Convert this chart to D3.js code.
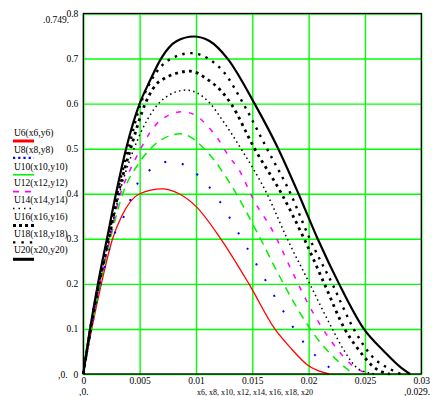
<!DOCTYPE html>
<html>
<head>
<meta charset="utf-8">
<script src="https://cdn.jsdelivr.net/npm/d3@7"></script>
<style>
  html, body { margin: 0; padding: 0; background: #fff; }
  svg { display: block; font-family: "Liberation Serif", "Times New Roman", serif; }
  .tick text { font-size: 9.5px; fill: #000; }
</style>
</head>
<body>
<svg id="chart" width="432" height="396"></svg>
<script>
// ---- data ----
const xTicks = [0, 0.005, 0.01, 0.015, 0.02, 0.025, 0.03];
const xTickLabels = ["0", "0.005", "0.01", "0.015", "0.02", "0.025", "0.03"];
const yTicks = [0, 0.1, 0.2, 0.3, 0.4, 0.5, 0.6, 0.7, 0.8];
const yTickLabels = ["0", "0.1", "0.2", "0.3", "0.4", "0.5", "0.6", "0.7", "0.8"];

const seriesNames = ["U6(x6,y6)", "U8(x8,y8)", "U10(x10,y10)", "U12(x12,y12)",
                     "U14(x14,y14)", "U16(x16,y16)", "U18(x18,y18)", "U20(x20,y20)"];

const u6 = [[0,0],[0.00075,0.1],[0.0016,0.2],[0.0026,0.3],[0.0034,0.35],[0.005,0.4],[0.007,0.411],
  [0.0085,0.4],[0.01,0.372],[0.0122,0.3],[0.0147,0.2],[0.017,0.1],[0.0185,0.055],[0.0199,0.02],[0.0218,0]];
const u8 = [[0,0],[0.00072,0.1],[0.00155,0.2],[0.0026,0.3],[0.0036,0.35],[0.0044,0.4],[0.005,0.43],
  [0.0078,0.472],[0.0112,0.414],[0.0143,0.29],[0.0163,0.202],[0.0171,0.167],[0.0196,0.069],[0.0226,0]];
const u10 = [[0,0],[0.0007,0.1],[0.0015,0.2],[0.0024,0.3],[0.0035,0.4],[0.005,0.47],[0.0062,0.506],
  [0.0086,0.533],[0.0112,0.487],[0.0131,0.42],[0.0156,0.306],[0.0175,0.213],[0.0198,0.113],[0.0206,0.084],
  [0.0228,0.024],[0.024,0]];
const u12 = [[0,0],[0.00068,0.1],[0.00146,0.2],[0.00235,0.3],[0.0033,0.4],[0.0041,0.45],[0.0051,0.5],
  [0.0059,0.535],[0.0069,0.564],[0.0088,0.582],[0.0099,0.575],[0.011,0.551],[0.012,0.52],[0.0129,0.484],
  [0.0138,0.454],[0.0151,0.387],[0.0168,0.318],[0.0186,0.224],[0.0203,0.14],[0.022,0.073],[0.0242,0.013],[0.0255,0]];
const u14 = [[0,0],[0.00066,0.1],[0.00143,0.2],[0.0023,0.3],[0.0032,0.4],[0.0045,0.5],[0.0057,0.565],
  [0.0071,0.61],[0.0091,0.63],[0.0112,0.602],[0.0123,0.565],[0.014,0.5],[0.0163,0.4],[0.0181,0.3],
  [0.0201,0.2],[0.0221,0.1],[0.0231,0.054],[0.0245,0.01],[0.026,0]];
const u16 = [[0,0],[0.00064,0.1],[0.0014,0.2],[0.00225,0.3],[0.0031,0.4],[0.0042,0.5],[0.0055,0.6],
  [0.0068,0.65],[0.0095,0.672],[0.011,0.654],[0.0122,0.629],[0.0131,0.6],[0.0152,0.5],[0.0176,0.4],
  [0.0196,0.3],[0.0214,0.2],[0.0232,0.1],[0.0244,0.055],[0.0259,0.013],[0.0272,0]];
const u18 = [[0,0],[0.00062,0.1],[0.00135,0.2],[0.0022,0.3],[0.003,0.4],[0.004,0.5],[0.0051,0.6],
  [0.006,0.65],[0.0078,0.7],[0.0096,0.712],[0.0112,0.698],[0.0125,0.669],[0.0142,0.6],[0.0163,0.5],
  [0.0184,0.4],[0.0201,0.3],[0.0221,0.2],[0.024,0.1],[0.0256,0.04],[0.0273,0.01],[0.0282,0]];
const u20 = [[0,0],[0.0006,0.1],[0.0013,0.2],[0.0021,0.3],[0.0029,0.4],[0.0038,0.5],[0.005,0.6],
  [0.0059,0.65],[0.0069,0.7],[0.0083,0.739],[0.0098,0.749],[0.0112,0.739],[0.0128,0.7],[0.0152,0.6],
  [0.0173,0.5],[0.0191,0.4],[0.0208,0.3],[0.0227,0.2],[0.0249,0.1],[0.0267,0.05],[0.0282,0.014],[0.029,0]];

const seriesData = [u6, u8, u10, u12, u14, u16, u18, u20];

// trace styles (Mathcad look)
const styles = [
  { color: "#ff0000", width: 1.3, dash: null,        legWidth: 3,   legDash: null },
  { color: "#0000ff", width: 2,   dash: "2,16",      legWidth: 2.2, legDash: "2.2,3" },
  { color: "#00ee00", width: 1.5, dash: "8,6",       legWidth: 1.5, legDash: null },
  { color: "#ff00ff", width: 1.5, dash: "5,8",       legWidth: 1.8, legDash: "6,6" },
  { color: "#000000", width: 1.5, dash: "1.5,3.3",   legWidth: 1.5, legDash: "1.5,4" },
  { color: "#000000", width: 2.8, dash: "2.8,4.2",   legWidth: 3,   legDash: "3,3" },
  { color: "#000000", width: 2.4, dash: "2.4,5.6",   legWidth: 2.4, legDash: "2.4,6" },
  { color: "#000000", width: 2.2, dash: null,        legWidth: 3,   legDash: null }
];

// ---- layout ----
const plot = { left: 83.3, right: 421.3, top: 13.5, bottom: 374 };

const svg = d3.select("#chart");

const x = d3.scaleLinear().domain([0, 0.03]).range([plot.left, plot.right]);
const y = d3.scaleLinear().domain([0, 0.8]).range([plot.bottom, plot.top]);

// grid + tick labels
const xAxis = d3.axisBottom(x)
  .tickValues(xTicks)
  .tickSize(-(plot.bottom - plot.top))
  .tickPadding(3)
  .tickFormat((d, i) => xTickLabels[i]);

const yAxis = d3.axisLeft(y)
  .tickValues(yTicks)
  .tickSize(-(plot.right - plot.left))
  .tickPadding(5)
  .tickFormat((d, i) => yTickLabels[i]);

const gx = svg.append("g")
  .attr("transform", `translate(0,${plot.bottom})`)
  .call(xAxis);
const gy = svg.append("g")
  .attr("transform", `translate(${plot.left},0)`)
  .call(yAxis);

[gx, gy].forEach(g => {
  g.select(".domain").remove();
  g.selectAll(".tick line").attr("stroke", "#00ff00").attr("stroke-width", 1.4);
  g.selectAll(".tick text").attr("font-family", "Liberation Serif, serif");
});

// traces
const line = d3.line()
  .x(d => x(d[0]))
  .y(d => y(d[1]))
  .curve(d3.curveMonotoneX);

const traces = svg.append("g");
seriesData.forEach((pts, i) => {
  const s = styles[i];
  traces.append("path")
    .datum(pts)
    .attr("d", line)
    .attr("fill", "none")
    .attr("stroke", s.color)
    .attr("stroke-width", s.width)
    .attr("stroke-dasharray", s.dash)
    .attr("stroke-linejoin", "round");
});

// frame
svg.append("rect")
  .attr("x", plot.left)
  .attr("y", plot.top)
  .attr("width", plot.right - plot.left)
  .attr("height", plot.bottom - plot.top)
  .attr("fill", "none")
  .attr("stroke", "#000")
  .attr("stroke-width", 1.3);

// legend
const legend = svg.append("g");
seriesNames.forEach((name, i) => {
  const s = styles[i];
  legend.append("text")
    .attr("x", 14)
    .attr("y", 136 + i * 16.75)
    .attr("font-size", 9.5)
    .text(name);
  legend.append("line")
    .attr("x1", 13).attr("x2", 34)
    .attr("y1", 141 + i * 16.9).attr("y2", 141 + i * 16.9)
    .attr("stroke", s.color)
    .attr("stroke-width", s.legWidth)
    .attr("stroke-dasharray", s.legDash);
});

// Mathcad limit markers and axis label
const marks = svg.append("g").attr("font-size", 9.5);
marks.append("text").attr("x", 43).attr("y", 23).text(".0.749.");
marks.append("text").attr("x", 58).attr("y", 378).text(",0.");
marks.append("text").attr("x", 79).attr("y", 395).text(",0.");
marks.append("text").attr("x", 404).attr("y", 395).text(",0.029.");
marks.append("text").attr("x", 197).attr("y", 395).attr("font-size", 8)
  .text("x6, x8, x10, x12, x14, x16, x18, x20");
</script>
</body>
</html>
